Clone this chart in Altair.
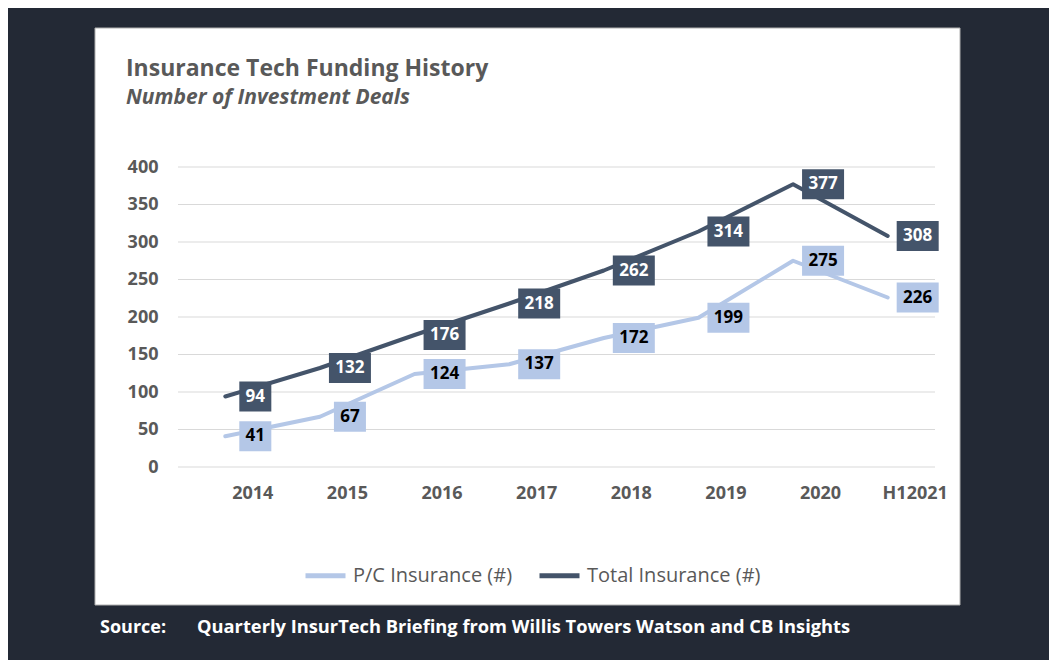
import altair as alt
import pandas as pd

# ---- data ----
years = ["2014", "2015", "2016", "2017", "2018", "2019", "2020", "H12021"]
pc_insurance = [41, 67, 124, 137, 172, 199, 275, 226]
total_insurance = [94, 132, 176, 218, 262, 314, 377, 308]
series_names = ["P/C Insurance (#)", "Total Insurance (#)"]
y_ticks = [0, 50, 100, 150, 200, 250, 300, 350, 400]

title_text = "Insurance Tech Funding History"
subtitle_text = "Number of Investment Deals"
source_label = "Source:"
source_text = "Quarterly InsurTech Briefing from Willis Towers Watson and CB Insights"

# ---- styling ----
LIGHT = "#B4C7E7"
DARK = "#44546A"
GRAY = "#595959"
BG = "#232935"
FONT = "Open Sans"

W, H = 757, 300

rows = []
for name, vals in zip(series_names, [pc_insurance, total_insurance]):
    for yr, v in zip(years, vals):
        rows.append({"series": name, "year": yr, "value": v})
df = pd.DataFrame(rows)

x_scale = alt.Scale(type="point", padding=0.5, domain=years)
y_scale = alt.Scale(domain=[0, 400], nice=False, zero=True)

x_axis = alt.Axis(
    title=None, labelAngle=0, labelPadding=17, labelOffset=27, ticks=False,
    domain=False, grid=False, labelFontSize=18, labelFontWeight="bold",
    labelColor=GRAY, labelFont=FONT, zindex=1,
)
y_axis = alt.Axis(
    title=None, values=y_ticks, labelPadding=20, ticks=False, domain=False,
    grid=False, labelFontSize=18, labelFontWeight="bold", labelColor=GRAY,
    labelFont=FONT, zindex=1,
)

x_enc = alt.X("year:N", scale=x_scale, axis=x_axis, sort=years)
y_enc = alt.Y("value:Q", scale=y_scale, axis=y_axis)

# white panel (decoration)
panel = alt.Chart(pd.DataFrame({"p": [1]})).mark_rect(
    fill="white", stroke="#B0B0B0", strokeWidth=1
).encode(
    x=alt.value(-83), x2=alt.value(782), y=alt.value(-139), y2=alt.value(438)
)

grid = alt.Chart(pd.DataFrame({"v": y_ticks})).mark_rule(
    color="#D9D9D9", strokeWidth=1
).encode(y=alt.Y("v:Q", scale=y_scale, axis=y_axis))

lines = alt.Chart(df).mark_line(strokeWidth=4, strokeCap="round", strokeJoin="round").encode(
    x=x_enc,
    y=y_enc,
    color=alt.Color(
        "series:N",
        sort=series_names,
        scale=alt.Scale(domain=series_names, range=[LIGHT, DARK]),
        legend=alt.Legend(
            orient="none", legendX=125, legendY=386, direction="horizontal",
            title=None, symbolType="stroke", symbolStrokeWidth=5, symbolSize=1600,
            labelFontSize=20, labelColor=GRAY, labelFont=FONT, labelOffset=5,
            labelLimit=400, columnPadding=16, zindex=1, padding=0,
        ),
    ),
    order=alt.Order("year:N"),
)

P2 = "M-1.067,-1L1.067,-1L1.067,1L-1.067,1Z"
P3 = "M-1.4,-1L1.4,-1L1.4,1L-1.4,1Z"


def boxes(series, fill, textcolor):
    base = alt.Chart(df).transform_filter(
        alt.datum.series == series
    ).transform_calculate(
        w="length(toString(datum.value)) > 2 ? 'w3' : 'w2'"
    )
    box = base.mark_point(filled=True, opacity=1, color=fill, size=900, xOffset=30, strokeWidth=0).encode(
        x=x_enc, y=y_enc,
        shape=alt.Shape("w:N", scale=alt.Scale(domain=["w2", "w3"], range=[P2, P3]), legend=None),
    )
    txt = base.mark_text(
        dx=30, align="center", baseline="middle", font=FONT, fontSize=17,
        fontWeight="bold", color=textcolor,
    ).encode(x=x_enc, y=y_enc, text="value:Q")
    return box + txt


def label(text, x, y, size, color, weight="bold", style="normal"):
    return alt.Chart(pd.DataFrame({"t": [text]})).mark_text(
        align="left", baseline="alphabetic", font=FONT, fontSize=size,
        fontWeight=weight, fontStyle=style, color=color,
    ).encode(text="t:N", x=alt.value(x), y=alt.value(y))


chart = alt.layer(
    panel,
    grid,
    lines,
    boxes(series_names[0], LIGHT, "black"),
    boxes(series_names[1], DARK, "white"),
    label(title_text, -52, -91, 23, GRAY),
    label(subtitle_text, -52, -63, 21, GRAY, style="italic"),
    label(source_label, -78, 466, 18, "white"),
    label(source_text, 19, 466, 18.3, "white"),
).properties(
    width=W, height=H,
    padding={"left": 170, "top": 159, "right": 114, "bottom": 193},
    autosize=alt.AutoSizeParams(type="none"),
    background=BG,
).configure_view(strokeWidth=0)

chart.save("out.html", embed_options={"renderer": "svg", "actions": False})
